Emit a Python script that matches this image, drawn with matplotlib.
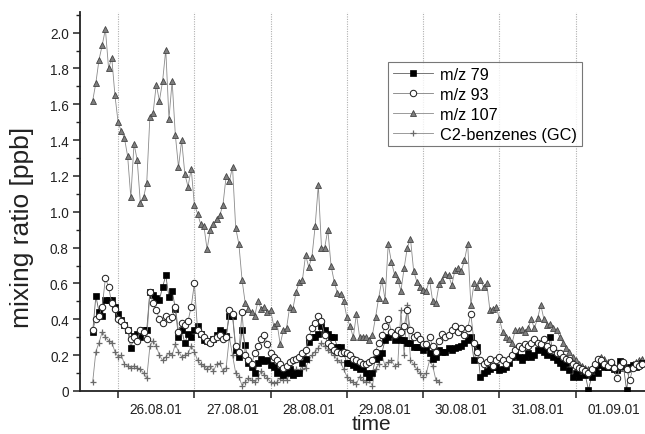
import numpy as np
import matplotlib
matplotlib.use("Agg")
import matplotlib.pyplot as plt
from matplotlib.ticker import FixedLocator, MultipleLocator, FuncFormatter, NullFormatter

plt.rcParams['font.family'] = ['Liberation Sans', 'DejaVu Sans']

# time in hours since 25.08.01 00:00 (hourly samples)
ptr_start_h = 16
gc_start_h = 16

mz79 = [0.33, 0.53, 0.44, 0.42, 0.51, 0.51, 0.51, 0.47, 0.43, 0.395,
        0.37, 0.34, 0.24, 0.305, 0.32, 0.30, 0.34, 0.34, 0.555, 0.535,
        0.52, 0.51, 0.58, 0.645, 0.525, 0.56, 0.46, 0.30, 0.34, 0.265,
        0.32, 0.30, 0.34, 0.36, 0.32, 0.285, 0.28, 0.275, 0.29, 0.31,
        0.34, 0.33, 0.305, 0.42, 0.42, 0.23, 0.19, 0.34, 0.255, 0.155,
        0.135, 0.10, 0.155, 0.18, 0.165, 0.17, 0.145, 0.135, 0.10, 0.11,
        0.09, 0.10, 0.12, 0.09, 0.10, 0.10, 0.155, 0.18, 0.275, 0.30,
        0.30, 0.32, 0.36, 0.34, 0.32, 0.30, 0.30, 0.245, 0.245, 0.21,
        0.155, 0.155, 0.145, 0.135, 0.125, 0.135, 0.10, 0.08, 0.10, 0.18,
        0.19, 0.21, 0.285, 0.30, 0.32, 0.285, 0.29, 0.285, 0.285, 0.265,
        0.265, 0.245, 0.245, 0.245, 0.23, 0.245, 0.21, 0.18, 0.19, 0.23,
        0.22, 0.22, 0.24, 0.23, 0.24, 0.245, 0.25, 0.265, 0.285, 0.30,
        0.17, 0.245, 0.08, 0.10, 0.11, 0.125, 0.135, 0.135, 0.115, 0.125,
        0.135, 0.155, 0.19, 0.20, 0.19, 0.17, 0.19, 0.21, 0.19, 0.20,
        0.23, 0.245, 0.22, 0.20, 0.30, 0.19, 0.17, 0.155, 0.135, 0.155,
        0.115, 0.08, 0.10, 0.08, 0.115, 0.09, 0.005, 0.08, 0.115, 0.10,
        0.145, 0.135, 0.135, 0.135, 0.12, 0.115, 0.165, 0.14, 0.005, 0.135,
        0.145, 0.135, 0.145, 0.155]

mz93 = [0.34, 0.40, 0.42, 0.47, 0.63, 0.58, 0.49, 0.46, 0.40, 0.39,
        0.37, 0.34, 0.29, 0.30, 0.28, 0.34, 0.33, 0.29, 0.555, 0.49,
        0.45, 0.40, 0.38, 0.42, 0.40, 0.41, 0.47, 0.33, 0.38, 0.37,
        0.39, 0.47, 0.60, 0.34, 0.32, 0.30, 0.28, 0.27, 0.29, 0.30,
        0.31, 0.29, 0.30, 0.45, 0.43, 0.25, 0.22, 0.44, 0.20, 0.17,
        0.15, 0.21, 0.25, 0.29, 0.31, 0.26, 0.21, 0.19, 0.17, 0.15,
        0.13, 0.14, 0.16, 0.17, 0.18, 0.19, 0.21, 0.23, 0.30, 0.35,
        0.38, 0.42, 0.39, 0.31, 0.27, 0.25, 0.23, 0.22, 0.21, 0.22,
        0.21, 0.20, 0.18, 0.17, 0.16, 0.15, 0.15, 0.16, 0.17, 0.22,
        0.27, 0.31, 0.36, 0.40, 0.33, 0.31, 0.34, 0.33, 0.36, 0.45,
        0.34, 0.30, 0.31, 0.29, 0.26, 0.26, 0.30, 0.25, 0.22, 0.28,
        0.32, 0.30, 0.31, 0.34, 0.36, 0.33, 0.35, 0.31, 0.35, 0.43,
        0.27, 0.22, 0.17, 0.15, 0.16, 0.18, 0.14, 0.17, 0.19, 0.17,
        0.15, 0.18, 0.20, 0.23, 0.25, 0.24, 0.26, 0.25, 0.27, 0.29,
        0.27, 0.26, 0.29, 0.25, 0.23, 0.24, 0.21, 0.21, 0.19, 0.18,
        0.17, 0.15, 0.14, 0.13, 0.12, 0.11, 0.10, 0.12, 0.15, 0.18,
        0.17, 0.15, 0.14, 0.16, 0.13, 0.07, 0.14, 0.16, 0.12, 0.06,
        0.13, 0.15, 0.14, 0.15]

mz107 = [1.62, 1.72, 1.85, 1.93, 2.02, 1.80, 1.86, 1.65, 1.50, 1.45,
         1.41, 1.31, 1.08, 1.38, 1.29, 1.05, 1.08, 1.16, 1.53, 1.55,
         1.71, 1.62, 1.73, 1.905, 1.52, 1.73, 1.43, 1.25, 1.40, 1.21,
         1.14, 1.24, 1.04, 0.99, 0.93, 0.92, 0.79, 0.90, 0.93, 0.96,
         0.98, 1.04, 1.20, 1.17, 1.25, 0.91, 0.82, 0.62, 0.49, 0.46,
         0.44, 0.42, 0.50, 0.46, 0.47, 0.44, 0.45, 0.36, 0.38, 0.26,
         0.34, 0.35, 0.47, 0.46, 0.55, 0.61, 0.62, 0.76, 0.69, 0.75,
         0.92, 1.15, 0.80, 0.80, 0.90, 0.70, 0.61, 0.545, 0.54, 0.50,
         0.41, 0.36, 0.30, 0.43, 0.30, 0.30, 0.30, 0.285, 0.31, 0.41,
         0.52, 0.62, 0.51, 0.82, 0.72, 0.65, 0.62, 0.56, 0.685, 0.80,
         0.85, 0.67, 0.61, 0.58, 0.565, 0.56, 0.62, 0.50, 0.49, 0.595,
         0.62, 0.655, 0.645, 0.59, 0.675, 0.685, 0.67, 0.73, 0.82, 0.48,
         0.60, 0.58, 0.62, 0.58, 0.60, 0.45, 0.46, 0.47, 0.40, 0.33,
         0.30, 0.29, 0.27, 0.34, 0.34, 0.345, 0.33, 0.35, 0.40, 0.35,
         0.405, 0.48, 0.40, 0.37, 0.375, 0.35, 0.34, 0.30, 0.27, 0.24,
         0.22, 0.19, 0.17, 0.15, 0.14, 0.13, 0.12, 0.13, 0.15, 0.17,
         0.19, 0.18, 0.16, 0.15, 0.14, 0.12, 0.13, 0.15, 0.12, 0.13,
         0.15, 0.16, 0.17, 0.18]

c2_benzenes = [0.05, 0.22, 0.27, 0.33, 0.30, 0.28, 0.27, 0.22, 0.19, 0.20,
               0.15, 0.14, 0.13, 0.14, 0.13, 0.12, 0.10, 0.07, 0.25, 0.28,
               0.25, 0.20, 0.17, 0.19, 0.21, 0.20, 0.26, 0.22, 0.19, 0.20,
               0.21, 0.25, 0.22, 0.17, 0.15, 0.14, 0.12, 0.14, 0.11, 0.15,
               0.155, 0.11, 0.13, 0.30, 0.20, 0.10, 0.08, 0.03, 0.05, 0.07,
               0.06, 0.05, 0.07, 0.11, 0.09, 0.07, 0.05, 0.045, 0.05, 0.07,
               0.06, 0.06, 0.09, 0.11, 0.12, 0.10, 0.12, 0.13, 0.17, 0.20,
               0.22, 0.24, 0.27, 0.25, 0.23, 0.22, 0.20, 0.17, 0.16, 0.12,
               0.08, 0.06, 0.05, 0.04, 0.08, 0.06, 0.05, 0.06, 0.03, 0.12,
               0.15, 0.20, 0.14, 0.16, 0.17, 0.14, 0.15, 0.45, 0.20, 0.48,
               0.17, 0.15, 0.12, 0.10, 0.08, 0.10, 0.17, 0.14, 0.06, 0.05]

day_ticks_h = [24, 48, 72, 96, 120, 144, 168]
day_label_pos_h = [36, 60, 84, 108, 132, 156, 180]
day_labels = ["26.08.01", "27.08.01", "28.08.01", "29.08.01",
              "30.08.01", "31.08.01", "01.09.01"]

t_ptr = ptr_start_h + np.arange(len(mz79))
t_gc = gc_start_h + np.arange(len(c2_benzenes))

fig = plt.figure(figsize=(6.45, 4.35), dpi=100)
ax = fig.add_axes([0.124, 0.099, 0.876, 0.871])

for xv in day_ticks_h:
    ax.axvline(xv, color='#b0b0b0', lw=0.8, ls=(0, (1, 1.2)), zorder=0)

ax.plot(t_gc, c2_benzenes, color='#8a8a8a', lw=0.6, marker='+', ms=4.8,
        mec='#6a6a6a', mew=0.9, label='C2-benzenes (GC)', zorder=2)
ax.plot(t_ptr, mz107, color='#8a8a8a', lw=0.6, marker='^', ms=4.9,
        mfc='#7e7e7e', mec='#454545', mew=0.6, label='m/z 107', zorder=3)
ax.plot(t_ptr, mz79, color='#606060', lw=0.6, marker='s', ms=3.8,
        mfc='black', mec='black', mew=0.5, label='m/z 79', zorder=4)
ax.plot(t_ptr, mz93, color='#808080', lw=0.6, marker='o', ms=4.6,
        mfc='white', mec='#252525', mew=0.75, label='m/z 93', zorder=5)

ax.set_xlim(12, 189.8)
ax.set_ylim(0, 2.115)

ax.xaxis.set_major_locator(FixedLocator(day_ticks_h))
ax.xaxis.set_major_formatter(NullFormatter())
ax.xaxis.set_minor_locator(FixedLocator(day_label_pos_h))
ax.set_xticklabels(day_labels, minor=True)
ax.yaxis.set_major_locator(MultipleLocator(0.2))
ax.yaxis.set_minor_locator(MultipleLocator(0.1))
ax.yaxis.set_major_formatter(FuncFormatter(lambda v, p: '0' if abs(v) < 1e-9 else f'{v:.1f}'))

for s in ['top', 'right']:
    ax.spines[s].set_visible(False)
for s in ['left', 'bottom']:
    ax.spines[s].set_linewidth(1.3)
    ax.spines[s].set_color('#222222')

ax.tick_params(axis='both', which='major', direction='out', length=5, width=1.1,
               labelsize=9.8, colors='#222222', pad=3)
ax.tick_params(axis='x', which='minor', length=0, labelsize=9.8,
               labelcolor='#222222', pad=8)
ax.tick_params(axis='y', which='minor', direction='out', length=3, width=1.0, colors='#222222')

ax.set_xlabel('time', fontsize=15, color='#222222')
ax.xaxis.set_label_coords(0.515, -0.100, transform=ax.transAxes)
ax.xaxis.label.set_va('baseline')
ax.set_ylabel('mixing ratio [ppb]', fontsize=19, color='#222222')
ax.yaxis.set_label_coords(-0.082, 0.433)

handles, labels = ax.get_legend_handles_labels()
order = [2, 3, 1, 0]
leg = ax.legend([handles[i] for i in order], [labels[i] for i in order],
                loc='upper left', bbox_to_anchor=(0.545, 0.868), fontsize=11.7,
                frameon=True, fancybox=False, edgecolor='#555555',
                handlelength=2.5, handletextpad=0.4, borderpad=0.3,
                labelspacing=0.3, borderaxespad=0)
leg.get_frame().set_linewidth(0.8)

fig.savefig('out.png', dpi=100)
